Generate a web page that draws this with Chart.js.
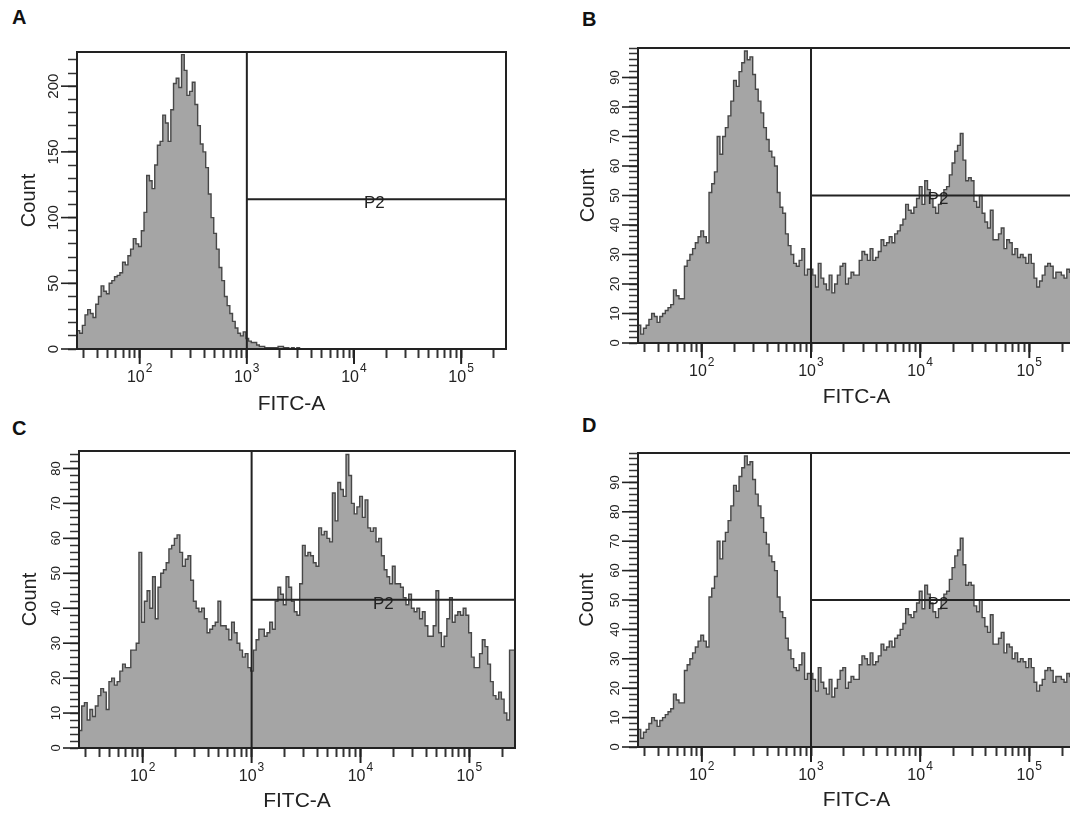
<!DOCTYPE html>
<html><head><meta charset="utf-8">
<script src="https://cdn.jsdelivr.net/npm/chart.js@4.4.1/dist/chart.umd.min.js"></script>
<style>
html,body{margin:0;padding:0;background:#fff;}
body{width:1070px;height:814px;position:relative;overflow:hidden;font-family:"Liberation Sans",Arial,sans-serif;}
canvas{position:absolute;}
.lbl{position:absolute;font-weight:bold;font-size:20px;color:#111;line-height:1;}
</style></head><body>
<div class="lbl" style="left:12px;top:7px">A</div>
<div class="lbl" style="left:582px;top:9px">B</div>
<div class="lbl" style="left:12px;top:418px">C</div>
<div class="lbl" style="left:582px;top:415px">D</div>
<canvas id="cA" width="530" height="420" style="left:0;top:0"></canvas>
<canvas id="cB" width="520" height="420" style="left:560px;top:0"></canvas>
<canvas id="cC" width="530" height="399" style="left:0;top:415px"></canvas>
<canvas id="cD" width="520" height="399" style="left:560px;top:415px"></canvas>
<script>
// ---- data (histogram counts per log-spaced bin, 160 bins from 26 to 262144) ----
const xMin = 26;
const xMax = 262144;
const xDecades = [100, 1000, 10000, 100000];
const xTickBase = '10';
const xTickExp = ['2', '3', '4', '5'];
const gateX = 1000;
const gateName = 'P2';

const countsA = [
 20,14,12,18,26,30,27,24,34,40,
 48,44,42,50,52,55,56,58,66,64,
 71,76,84,80,78,90,104,132,128,122,
 140,155,158,178,172,158,182,202,206,199,
 224,212,193,196,203,186,170,156,150,138,
 118,100,88,76,62,52,40,33,27,21,
 16,12,10,13,8,6,5,5,3,2,
 2,1,1,1,1,1,2,2,1,1,
 0,1,0,1,0,0,0,0,0,0,
 0,0,0,0,0,0,0,0,0,0,
 0,0,0,0,0,0,0,0,0,0,
 0,0,0,0,0,0,0,0,0,0,
 0,0,0,0,0,0,0,0,0,0,
 0,0,0,0,0,0,0,0,0,0,
 0,0,0,0,0,0,0,0,0,0,
 0,0,0,0,0,0,0,0,0,0
];
const countsB = [
 5,6,3,5,6,8,10,9,7,9,
 10,11,12,13,18,16,15,15,26,28,
 30,32,34,36,38,36,34,51,54,58,
 70,64,70,73,77,82,89,87,92,95,
 99,96,97,91,86,82,78,73,69,65,
 63,60,51,46,44,37,33,30,27,26,
 28,32,23,25,25,23,19,27,22,20,
 18,23,17,20,23,26,27,20,22,24,
 23,23,28,31,30,28,32,28,29,31,
 35,33,34,36,34,37,38,40,42,47,
 45,44,46,49,53,47,55,52,49,46,
 44,47,50,52,53,57,61,65,67,71,
 62,55,56,55,48,46,50,44,41,39,
 45,35,35,37,39,32,35,34,30,32,
 29,30,29,27,30,27,22,19,21,23,
 26,27,26,22,24,24,23,22,25,24
];
const countsC = [
 11,5,12,13,8,11,9,12,15,17,
 16,11,19,20,18,19,22,24,23,23,
 28,28,30,56,36,42,45,40,49,37,
 46,50,51,53,57,58,60,61,56,52,
 54,55,48,42,40,39,40,37,33,34,
 35,36,42,35,35,34,31,36,33,30,
 28,26,27,23,22,28,31,34,34,32,
 33,36,34,42,46,44,41,49,46,42,
 39,38,47,58,55,56,55,53,52,63,
 61,62,60,59,73,65,76,74,72,84,
 78,70,67,69,72,66,71,63,62,63,
 59,60,55,51,49,47,52,47,47,46,
 43,41,44,40,39,40,37,39,35,32,
 32,35,45,33,29,32,37,43,36,38,
 39,38,40,38,33,26,23,23,27,31,
 29,24,19,15,14,16,14,10,8,28
];
// panel D shows the same histogram as panel B
const countsD = countsB.slice();

const yLabelsA = [0, 50, 100, 150, 200];
const yLabelsB = [0, 10, 20, 30, 40, 50, 60, 70, 80, 90];
const yLabelsC = [0, 10, 20, 30, 40, 50, 60, 70, 80];
const yLabelsD = [0, 10, 20, 30, 40, 50, 60, 70, 80, 90];

// ---- rendering ----
Chart.defaults.font.family = '"Liberation Sans", Arial, sans-serif';
const FONT = '"Liberation Sans", Arial, sans-serif';
const INK = '#222';

const logLo = Math.log10(xMin), logHi = Math.log10(xMax);

function xMinorTicks() {
  const t = [];
  for (let e = 1; e <= 5; e++) {
    for (let m = 1; m <= 9; m++) {
      const v = m * Math.pow(10, e);
      if (v >= xMin && v <= xMax) t.push(v);
    }
  }
  return t;
}
const xTickValues = xMinorTicks();

const flowPlugin = {
  id: 'flow',
  afterDraw(chart, args, o) {
    const {ctx, chartArea: a, scales: {x, y}} = chart;
    ctx.save();
    ctx.strokeStyle = INK;
    ctx.fillStyle = INK;
    ctx.lineWidth = 2;
    ctx.strokeRect(a.left, a.top, a.right - a.left, a.bottom - a.top);
    // gate
    const gx = x.getPixelForValue(o.gateX);
    const gy = y.getPixelForValue(o.gateY);
    ctx.beginPath();
    ctx.moveTo(gx, a.bottom); ctx.lineTo(gx, a.top);
    ctx.moveTo(gx, gy); ctx.lineTo(a.right, gy);
    ctx.stroke();
    ctx.font = '17px ' + FONT;
    ctx.textAlign = 'center';
    ctx.textBaseline = 'middle';
    ctx.fillText(o.gateName, (gx + a.right) / 2 + o.p2Shift, gy + 4);
    // x decade ticks and labels 10^n
    ctx.lineWidth = 2;
    xDecades.forEach((d, k) => {
      const px = x.getPixelForValue(d);
      ctx.beginPath(); ctx.moveTo(px, a.bottom); ctx.lineTo(px, a.bottom + 15); ctx.stroke();
      ctx.font = '16px ' + FONT;
      ctx.textAlign = 'right';
      ctx.fillText(xTickBase, px + 5, a.bottom + 29);
      ctx.font = '12px ' + FONT;
      ctx.textAlign = 'left';
      ctx.fillText(xTickExp[k], px + 6, a.bottom + 20);
    });
    // y labelled ticks with rotated labels
    ctx.lineWidth = 1.6;
    ctx.textAlign = 'center';
    ctx.font = o.yFontSize + 'px ' + FONT;
    for (const v of o.yLabels) {
      const py = y.getPixelForValue(v);
      ctx.beginPath(); ctx.moveTo(a.left - 16, py); ctx.lineTo(a.left, py); ctx.stroke();
      ctx.save();
      ctx.translate(a.left - 23, py);
      ctx.rotate(-Math.PI / 2);
      ctx.fillText(String(v), 0, 0);
      ctx.restore();
    }
    ctx.restore();
  }
};

function makeChart(id, counts, cfg) {
  const binW = (logHi - logLo) / counts.length;
  const pts = counts.map((c, i) => ({x: Math.pow(10, logLo + i * binW), y: c}));
  pts.push({x: xMax, y: counts[counts.length - 1]});
  const yMinor = [];
  for (let v = 0; v <= cfg.yMax + 1e-9; v += cfg.yStep) yMinor.push(v);
  return new Chart(document.getElementById(id), {
    type: 'line',
    data: {datasets: [{data: pts, stepped: 'after', fill: 'origin',
      backgroundColor: '#a5a5a5', borderColor: '#474747', borderWidth: 1.4,
      pointRadius: 0, tension: 0}]},
    options: {
      responsive: false, animation: false, events: [],
      layout: {padding: {left: 0, top: cfg.padTop, right: cfg.padRight, bottom: 0}},
      plugins: {legend: {display: false}, tooltip: {enabled: false},
        flow: {gateX: gateX, gateY: cfg.gateY, gateName: gateName, yLabels: cfg.yLabels,
               yFontSize: cfg.yFontSize, p2Shift: cfg.p2Shift}},
      scales: {
        x: {type: 'logarithmic', min: xMin, max: xMax, position: 'bottom',
          afterBuildTicks: s => { s.ticks = xTickValues.map(v => ({value: v})); },
          afterFit: s => { s.height = cfg.xH; },
          ticks: {autoSkip: false, maxRotation: 0, minRotation: 0, callback: () => ''},
          grid: {drawOnChartArea: false, drawTicks: true, tickLength: 9, tickWidth: 2, tickColor: '#333'},
          border: {display: true, color: INK, width: 2},
          title: {display: true, text: 'FITC-A', color: INK, font: {size: 21},
            padding: {top: 0, bottom: cfg.xTitlePad}}},
        y: {type: 'linear', min: 0, max: cfg.yMax, position: 'left',
          afterBuildTicks: s => { s.ticks = yMinor.map(v => ({value: v})); },
          afterFit: s => { s.width = cfg.yW; },
          ticks: {display: false},
          grid: {drawOnChartArea: false, drawTicks: true, tickLength: 9, tickWidth: 1.5, tickColor: '#333'},
          border: {display: true, color: INK, width: 2},
          title: {display: true, text: 'Count', color: INK, font: {size: 20},
            padding: {top: cfg.yTitlePad, bottom: 0}}}
      }
    },
    plugins: [flowPlugin]
  });
}

makeChart('cA', countsA, {yMax: 226, yStep: 10, yLabels: yLabelsA, gateY: 114, yFontSize: 15, p2Shift: -2,
  padTop: 52, padRight: 24, yW: 77, xH: 71, xTitlePad: 3, yTitlePad: 17});
makeChart('cB', countsB, {yMax: 100, yStep: 2, yLabels: yLabelsB, gateY: 50, yFontSize: 13, p2Shift: -5,
  padTop: 48, padRight: 5, yW: 78, xH: 77, xTitlePad: 10, yTitlePad: 16});
makeChart('cC', countsC, {yMax: 85, yStep: 2, yLabels: yLabelsC, gateY: 42.4, yFontSize: 13, p2Shift: 0,
  padTop: 36, padRight: 15, yW: 79, xH: 66, xTitlePad: 0, yTitlePad: 18});
makeChart('cD', countsD, {yMax: 100, yStep: 2, yLabels: yLabelsD, gateY: 50, yFontSize: 13, p2Shift: -5,
  padTop: 38, padRight: 5, yW: 78, xH: 67, xTitlePad: 1, yTitlePad: 15});
</script>
</body></html>
